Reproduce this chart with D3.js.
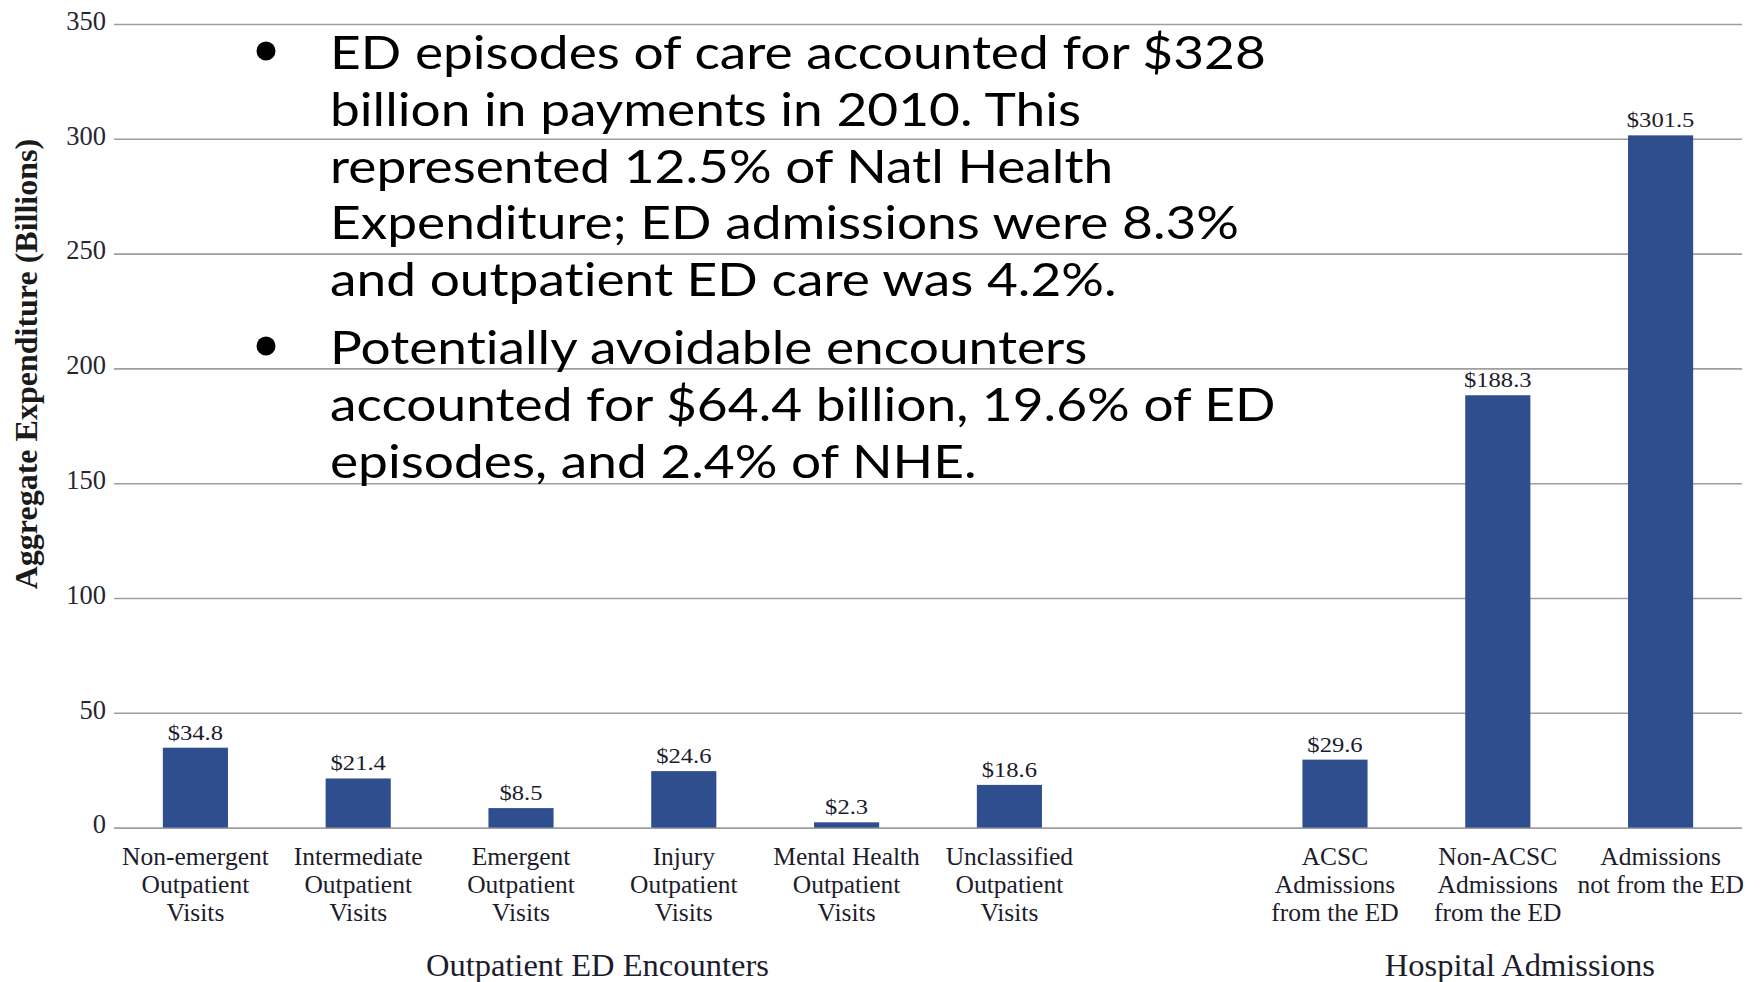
<!doctype html>
<meta charset="utf-8">
<body style="margin:0;background:#fff">
<script src="https://cdn.jsdelivr.net/npm/d3@7/dist/d3.min.js"></script>
<script>

var width = 1760,
    height = 982;

// bars, left to right
var categories = ['Non-emergent', 'Intermediate', 'Emergent', 'Injury', 'Mental Health',
                  'Unclassified', 'ACSC', 'Non-ACSC', 'Not from the ED'];
var labelLines = [
  ['Non-emergent', 'Outpatient', 'Visits'],
  ['Intermediate', 'Outpatient', 'Visits'],
  ['Emergent', 'Outpatient', 'Visits'],
  ['Injury', 'Outpatient', 'Visits'],
  ['Mental Health', 'Outpatient', 'Visits'],
  ['Unclassified', 'Outpatient', 'Visits'],
  ['ACSC', 'Admissions', 'from the ED'],
  ['Non-ACSC', 'Admissions', 'from the ED'],
  ['Admissions', 'not from the ED']
];
var values = [34.8, 21.4, 8.5, 24.6, 2.3, 18.6, 29.6, 188.3, 301.5];
var groupOf = [0, 0, 0, 0, 0, 0, 1, 1, 1];
var groupNames = ['Outpatient ED Encounters', 'Hospital Admissions'];
var yTicks = [0, 50, 100, 150, 200, 250, 300, 350];
var yTitle = 'Aggregate Expenditure (Billions)';

var bullets = [
  ['ED episodes of care accounted for $328',
   'billion in payments in 2010. This',
   'represented 12.5% of Natl Health',
   'Expenditure; ED admissions were 8.3%',
   'and outpatient ED care was 4.2%.'],
  ['Potentially avoidable encounters',
   'accounted for $64.4 billion, 19.6% of ED',
   'episodes, and 2.4% of NHE.']
];

var serif = "'Liberation Serif', 'Times New Roman', serif";
var barColor = '#2f4e8e';
var textColor = '#1c1c2c';

var plotLeft = 114, plotRight = 1742;

// a blank slot separates the two groups
var domain = [];
categories.forEach(function(c, i) {
  if (i > 0 && groupOf[i] !== groupOf[i - 1]) domain.push('__gap' + i);
  domain.push(c);
});

var x = d3.scaleBand()
    .domain(domain)
    .range([plotLeft, plotRight])
    .paddingInner(0.6)
    .paddingOuter(0.3);

var y = d3.scaleLinear()
    .domain([0, 350])
    .range([827.6, 24]);

var svg = d3.select('body').append('svg')
    .attr('width', width)
    .attr('height', height)
    .style('display', 'block');

// gridlines + tick labels
var yAxis = svg.append('g')
    .attr('transform', 'translate(' + plotLeft + ',0)')
    .call(d3.axisLeft(y).tickValues(yTicks).tickSize(-(plotRight - plotLeft)).tickPadding(8))
    .attr('font-family', serif)
    .attr('font-size', 26.5);
yAxis.select('.domain').remove();
yAxis.selectAll('.tick line')
    .attr('stroke', '#9e9e9e')
    .attr('stroke-width', 1.6);
yAxis.selectAll('.tick text')
    .attr('dy', '0.2em')
    .attr('fill', '#262630');

// y title
svg.append('text')
    .attr('transform', 'translate(37,' + (y(0) + y(350)) / 2 * 0.855 + ') rotate(-90)')
    .attr('text-anchor', 'middle')
    .attr('font-family', serif)
    .attr('font-weight', 'bold')
    .attr('font-size', 32)
    .attr('fill', '#1a1a1a')
    .text(yTitle);

var data = categories.map(function(c, i) {
  return {key: c, value: values[i], lines: labelLines[i], group: groupOf[i]};
});

// bars
svg.append('g').selectAll('rect')
    .data(data)
    .enter().append('rect')
    .attr('x', function(d) { return x(d.key); })
    .attr('y', function(d) { return y(d.value); })
    .attr('width', x.bandwidth())
    .attr('height', function(d) { return y(0) - y(d.value); })
    .attr('fill', barColor);

// value labels
svg.append('g').selectAll('text')
    .data(data)
    .enter().append('text')
    .attr('transform', function(d) {
      return 'translate(' + (x(d.key) + x.bandwidth() / 2) + ',' + (y(d.value) - 8) + ') scale(1.2,1)';
    })
    .attr('text-anchor', 'middle')
    .attr('font-family', serif)
    .attr('font-size', 20.5)
    .attr('fill', textColor)
    .text(function(d) { return '$' + d.value.toFixed(1); });

// category labels
var catLabels = svg.append('g').selectAll('text')
    .data(data)
    .enter().append('text')
    .attr('text-anchor', 'middle')
    .attr('font-family', serif)
    .attr('font-size', 25.5)
    .attr('fill', textColor);
catLabels.selectAll('tspan')
    .data(function(d) { return d.lines.map(function(l) { return {t: l, cx: x(d.key) + x.bandwidth() / 2}; }); })
    .enter().append('tspan')
    .attr('x', function(d) { return d.cx; })
    .attr('y', function(d, i) { return 865 + i * 28; })
    .text(function(d) { return d.t; });

// group labels
var groupShift = [-5, 22];
groupNames.forEach(function(g, gi) {
  var keys = data.filter(function(d) { return d.group === gi; }).map(function(d) { return d.key; });
  var x0 = x(keys[0]), x1 = x(keys[keys.length - 1]) + x.bandwidth();
  svg.append('text')
      .attr('x', (x0 + x1) / 2 + groupShift[gi])
      .attr('y', 976)
      .attr('text-anchor', 'middle')
      .attr('font-family', serif)
      .attr('font-size', 32.5)
      .attr('fill', textColor)
      .text(g);
});

// bullet text on top of the chart
var bulletFont = "Lato, 'Open Sans', sans-serif";
var firstBaselines = [69, 364];
var lineHeight = 56.8;
var textBlock = svg.append('g');
var dots = svg.append('g');
bullets.forEach(function(par, pi) {
  dots.append('circle')
      .attr('cx', 266)
      .attr('cy', firstBaselines[pi] - 18)
      .attr('r', 9.5)
      .attr('fill', '#000');
  par.forEach(function(line, li) {
    textBlock.append('text')
        .attr('x', 0)
        .attr('y', firstBaselines[pi] + li * lineHeight)
        .attr('font-family', bulletFont)
        .attr('font-size', 47)
        .style('font-variant-ligatures', 'none')
        .style('font-feature-settings', '"liga" 0, "clig" 0')
        .attr('fill', '#000')
        .text(line);
  });
});
// squeeze horizontally so the first line spans the same width as in the slide
var firstLen = textBlock.select('text').node().getComputedTextLength();
var sx = 936 / firstLen;
textBlock.attr('transform', 'translate(330,0) scale(' + sx + ',1)');

</script>
